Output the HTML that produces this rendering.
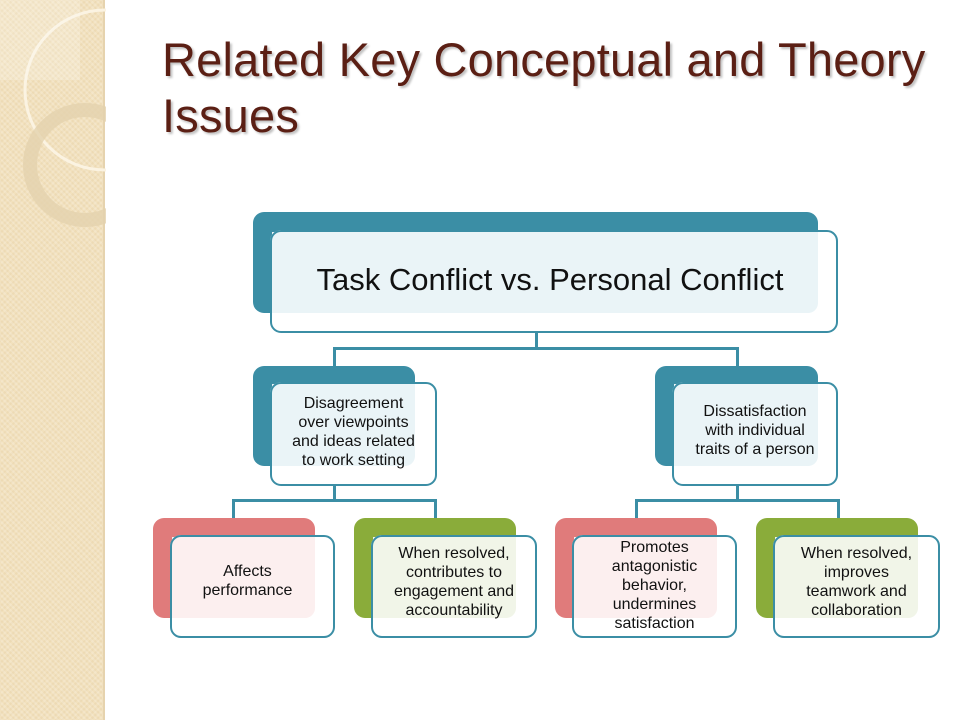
<!DOCTYPE html>
<html><head><meta charset="utf-8"><style>
body{margin:0;width:960px;height:720px;position:relative;background:#fff;overflow:hidden;font-family:"Liberation Sans",sans-serif}
.a{position:absolute;box-sizing:border-box}
.side{left:0;top:0;width:105px;height:720px;background:#f2e1bd;background-image:repeating-linear-gradient(45deg,rgba(255,255,255,.18) 0 2px,transparent 2px 4px),repeating-linear-gradient(-45deg,rgba(200,170,120,.12) 0 2px,transparent 2px 4px);border-right:2px solid #e6d3ae}
h1{position:absolute;left:162px;top:32px;margin:0;font-family:"Liberation Sans",sans-serif;font-weight:normal;font-size:47px;line-height:56px;color:#5b1f14;letter-spacing:0.2px;text-shadow:2px 2px 2px rgba(0,0,0,.25)}
.r{border-radius:11px}
.t{display:flex;align-items:center;justify-content:center;text-align:center;color:#111;font-size:16px;line-height:19px}
.bd{border:2px solid #3b8ea5;border-radius:11px}
.l{background:#3b8ea5;position:absolute}
</style></head><body>
<div class="a side"></div>
<svg class="a" style="left:0;top:0" width="106" height="300">
<circle cx="105" cy="90" r="80" fill="none" stroke="#fbf3e2" stroke-width="3"/>
<circle cx="85" cy="165" r="55" fill="none" stroke="#e3d2ae" stroke-width="14" opacity=".8"/>
<rect x="0" y="0" width="80" height="80" fill="#fff" opacity=".2"/>
</svg>
<h1>Related Key Conceptual and Theory<br>Issues</h1>

<div class="l" style="left:535px;top:318px;width:3px;height:31px"></div>
<div class="l" style="left:333px;top:347px;width:406px;height:3px"></div>
<div class="l" style="left:333px;top:347px;width:3px;height:20px"></div>
<div class="l" style="left:736px;top:347px;width:3px;height:20px"></div>
<div class="l" style="left:333px;top:484px;width:3px;height:17px"></div>
<div class="l" style="left:232px;top:499px;width:205px;height:3px"></div>
<div class="l" style="left:232px;top:499px;width:3px;height:20px"></div>
<div class="l" style="left:434px;top:499px;width:3px;height:20px"></div>
<div class="l" style="left:736px;top:484px;width:3px;height:17px"></div>
<div class="l" style="left:635px;top:499px;width:205px;height:3px"></div>
<div class="l" style="left:635px;top:499px;width:3px;height:20px"></div>
<div class="l" style="left:837px;top:499px;width:3px;height:20px"></div>

<div class="a r" style="left:253px;top:212px;width:565px;height:101px;background:#3b8ea5"></div>
<div class="a r" style="left:270px;top:230px;width:568px;height:103px;background:#fff"></div>
<div class="a" style="left:272px;top:232px;width:546px;height:81px;background:#eaf4f7;border-radius:0 0 10px 0"></div>
<div class="a bd t" style="left:270px;top:230px;width:568px;height:103px;font-size:31px;line-height:34px;padding:0 20px 4px 12px">Task Conflict vs. Personal Conflict</div>

<div class="a r" style="left:253px;top:366px;width:162px;height:100px;background:#3b8ea5"></div>
<div class="a r" style="left:270px;top:382px;width:167px;height:104px;background:#fff"></div>
<div class="a" style="left:272px;top:384px;width:143px;height:82px;background:#eaf4f7;border-radius:0 0 10px 0"></div>
<div class="a bd t" style="left:270px;top:382px;width:167px;height:104px;padding-bottom:4px">Disagreement<br>over viewpoints<br>and ideas related<br>to work setting</div>

<div class="a r" style="left:655px;top:366px;width:163px;height:100px;background:#3b8ea5"></div>
<div class="a r" style="left:672px;top:382px;width:166px;height:104px;background:#fff"></div>
<div class="a" style="left:674px;top:384px;width:144px;height:82px;background:#eaf4f7;border-radius:0 0 10px 0"></div>
<div class="a bd t" style="left:672px;top:382px;width:166px;height:104px;padding:0 0 8px 0">Dissatisfaction<br>with individual<br>traits of a person</div>

<div class="a r" style="left:153px;top:518px;width:162px;height:100px;background:#e07b7b"></div>
<div class="a r" style="left:170px;top:535px;width:165px;height:103px;background:#fff"></div>
<div class="a" style="left:172px;top:537px;width:143px;height:81px;background:#fcefef;border-radius:0 0 10px 0"></div>
<div class="a bd t" style="left:170px;top:535px;width:165px;height:103px;padding:0 10px 12px 0">Affects<br>performance</div>

<div class="a r" style="left:354px;top:518px;width:162px;height:100px;background:#8aac3a"></div>
<div class="a r" style="left:371px;top:535px;width:166px;height:103px;background:#fff"></div>
<div class="a" style="left:373px;top:537px;width:143px;height:81px;background:#f1f5e8;border-radius:0 0 10px 0"></div>
<div class="a bd t" style="left:371px;top:535px;width:166px;height:103px;padding-bottom:10px">When resolved,<br>contributes to<br>engagement and<br>accountability</div>

<div class="a r" style="left:555px;top:518px;width:162px;height:100px;background:#e07b7b"></div>
<div class="a r" style="left:572px;top:535px;width:165px;height:103px;background:#fff"></div>
<div class="a" style="left:574px;top:537px;width:143px;height:81px;background:#fcefef;border-radius:0 0 10px 0"></div>
<div class="a bd t" style="left:572px;top:535px;width:165px;height:103px;padding-bottom:2px">Promotes<br>antagonistic<br>behavior,<br>undermines<br>satisfaction</div>

<div class="a r" style="left:756px;top:518px;width:162px;height:100px;background:#8aac3a"></div>
<div class="a r" style="left:773px;top:535px;width:167px;height:103px;background:#fff"></div>
<div class="a" style="left:775px;top:537px;width:143px;height:81px;background:#f1f5e8;border-radius:0 0 10px 0"></div>
<div class="a bd t" style="left:773px;top:535px;width:167px;height:103px;padding-bottom:10px">When resolved,<br>improves<br>teamwork and<br>collaboration</div>
</body></html>
